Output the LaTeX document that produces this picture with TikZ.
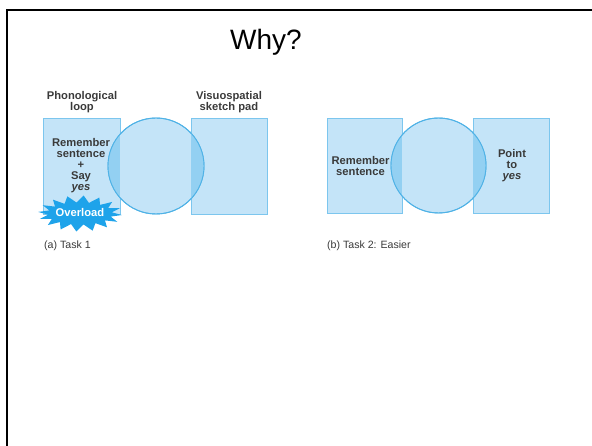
\documentclass[tikz,border=0pt]{standalone}
\usepackage{fontspec}
\setmainfont{Liberation Sans}
\definecolor{boxfill}{HTML}{C4E4F8}
\definecolor{boxline}{HTML}{7CC6EE}
\definecolor{ringline}{HTML}{4FB2E6}
\definecolor{overlapfill}{HTML}{93D0F2}
\definecolor{burstfill}{HTML}{1EA3EA}
\definecolor{inktext}{HTML}{3A3A3A}
\tikzset{
  module/.style={fill=boxfill, draw=boxline, line width=0.8pt},
  ring/.style={fill=boxfill, draw=ringline, line width=0.9pt},
  heading/.style={inner sep=0pt, align=center, text=inktext,
    font=\bfseries\fontsize{11.2}{11}\selectfont},
  caption/.style={inner sep=0pt, anchor=west, text=inktext,
    font=\fontsize{10.6}{12}\selectfont},
  slidetitle/.style={inner sep=0pt, font=\fontsize{28}{34}\selectfont},
  frameline/.style={line width=2.2pt, line cap=rect}
}
\begin{document}
\begin{tikzpicture}[x=1pt,y=-1pt]
\useasboundingbox (0,0) rectangle (592,446);

% slide frame (only top and left edges fall inside the page)
\draw[frameline] (7,460) -- (7,10) -- (600,10);
\node[slidetitle] (title) at (266,42) {Why?};

% ---------- (a) Task 1 ----------
\path[module] (43,118) rectangle (120,214);
\path[module] (191,118) rectangle (267,214);
\path[ring] (156,166) circle[radius=48];
\begin{scope}
  \clip (156,166) circle[radius=48];
  \fill[overlapfill] (43,118) rectangle (120,214);
  \fill[overlapfill] (191,118) rectangle (267,214);
\end{scope}
\draw[ringline, line width=0.9pt] (156,166) circle[radius=48];

\node[heading] (phon) at (82,102.5) {Phonological\\loop};
\node[heading] (visuo) at (229,102.5) {Visuospatial\\sketch pad};
\node[heading] (taskA) at (81,166) {Remember\\sentence\\+\\Say\\\textit{yes}};

% overload burst
\fill[burstfill] plot[samples at={0,...,31}, variable=\k]
  ({80+(42-10*mod(\k,2))*cos(\k*11.25+5)}, {213.5+(18-7*mod(\k,2))*sin(\k*11.25+5)}) -- cycle;
\node[heading, text=white] (overload) at (80,212) {Overload};

\node[caption] (capA) at (44,246) {(a) Task 1};

% ---------- (b) Task 2 ----------
\path[module] (327,118) rectangle (402,213);
\path[module] (473,118) rectangle (549,213);
\path[ring] (438.5,165.5) circle[radius=47.5];
\begin{scope}
  \clip (438.5,165.5) circle[radius=47.5];
  \fill[overlapfill] (327,118) rectangle (402,213);
  \fill[overlapfill] (473,118) rectangle (549,213);
\end{scope}
\draw[ringline, line width=0.9pt] (438.5,165.5) circle[radius=47.5];

\node[heading] (taskB1) at (360.5,165.5) {Remember\\sentence};
\node[heading] (taskB2) at (512,166) {Point\\to\\\textit{yes}};

\node[caption] (capB) at (327,246) {(b) Task 2: Easier};
\end{tikzpicture}
\end{document}
